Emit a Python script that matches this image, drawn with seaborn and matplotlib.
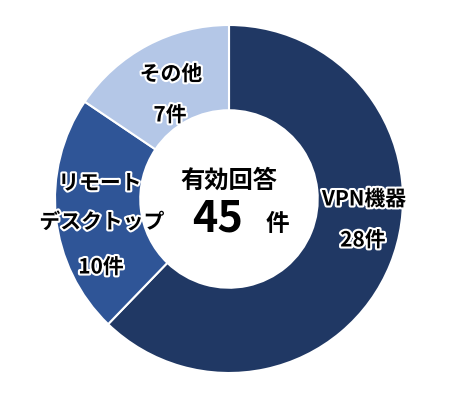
import matplotlib
matplotlib.use("Agg")
import matplotlib.pyplot as plt
import matplotlib.patheffects as pe
import seaborn as sns

categories = ["VPN機器", "リモート\nデスクトップ", "その他"]
values = [28, 10, 7]
count_labels = ["28件", "10件", "7件"]
colors = ["#203864", "#2F5597", "#B4C7E7"]
center_title = "有効回答"
total = sum(values)

sns.set_theme(style="white")
plt.rcParams['font.family'] = ['Noto Sans CJK JP', 'DejaVu Sans']

fig = plt.figure(figsize=(4.5, 4.0), dpi=100)
CX, CY, r = 229, 199, 174
cx, cy = CX / 450, 1 - CY / 400
w, h = 2 * r / 450, 2 * r / 400
ax = fig.add_axes([cx - w / 2, cy - h / 2, w, h])

wedges, _ = ax.pie(values, colors=colors, startangle=90, counterclock=False,
                   radius=1.0, wedgeprops=dict(width=0.49, edgecolor="white", linewidth=1.5))
ax.set_xlim(-1, 1)
ax.set_ylim(-1, 1)
ax.set_aspect("equal")
ax.axis("off")

stroke = [pe.withStroke(linewidth=3, foreground="white")]

def to_data(px, py):
    return (px - CX) / r, (CY - py) / r

label_pos = [
    [[(364, 199)], (363, 240)],
    [[(100, 183), (102, 222)], (101, 267)],
    [[(171, 74)], (170, 115)],
]
for cat, cl, pos in zip(categories, count_labels, label_pos):
    for line, p in zip(cat.split("\n"), pos[0]):
        x1, y1 = to_data(*p)
        ax.text(x1, y1, line, ha="center", va="center", fontsize=15, fontweight="bold",
                color="black", path_effects=stroke)
    x2, y2 = to_data(*pos[1])
    ax.text(x2, y2, cl, ha="center", va="center", fontsize=15, fontweight="bold",
            color="black", path_effects=stroke)

tx, ty = to_data(229, 181)
ax.text(tx, ty, center_title, ha="center", va="center", fontsize=17.5, fontweight="bold", color="black")
nx, ny = to_data(218, 219)
ax.text(nx, ny, str(total), ha="center", va="center", fontsize=31, fontweight="bold", color="black")
kx, ky = to_data(277, 224)
ax.text(kx, ky, "件", ha="center", va="center", fontsize=17, fontweight="bold", color="black")

fig.savefig("out.png", dpi=100, facecolor="white")
